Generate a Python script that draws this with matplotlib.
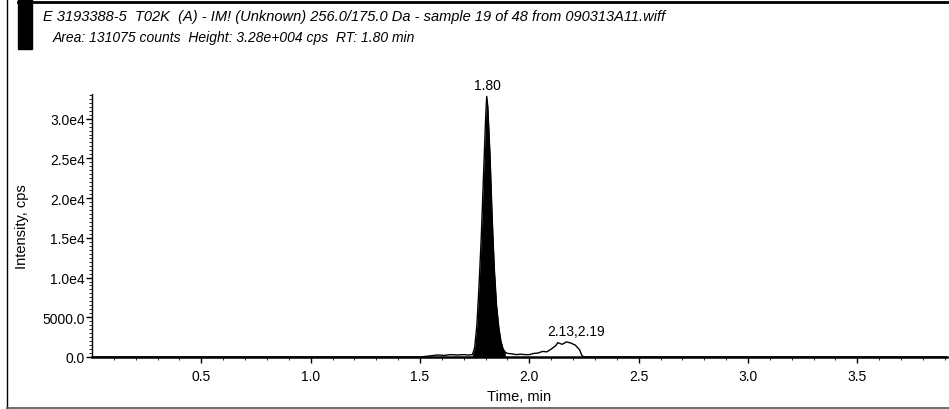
import numpy as np
import matplotlib.pyplot as plt
from matplotlib.patches import Rectangle
from matplotlib.lines import Line2D

# chromatogram trace (time in min, intensity in cps)
time_min = [0.00, 0.30, 0.60, 0.90, 1.20, 1.50, 1.55, 1.58, 1.61, 1.64, 1.67, 1.70, 1.72,
            1.740, 1.750, 1.760, 1.770, 1.780, 1.790, 1.800, 1.805, 1.810, 1.820, 1.830,
            1.840, 1.850, 1.860, 1.870, 1.880, 1.890, 1.90, 1.92, 1.94, 1.96, 1.98, 2.00,
            2.02, 2.04, 2.06, 2.08, 2.10, 2.12, 2.13, 2.15, 2.17, 2.19, 2.21, 2.23, 2.24,
            2.25, 2.50, 3.00, 3.50, 3.91]
intensity = [0, 0, 0, 0, 0, 0, 150, 250, 200, 300, 250, 300, 250,
             300, 1200, 4000, 9000, 15000, 22500, 30000, 32800, 31500, 25500, 17500,
             11000, 6500, 3800, 2000, 1000, 600, 450, 400, 300, 350, 300, 300,
             450, 500, 700, 650, 1000, 1400, 1800, 1600, 1900, 1750, 1500, 900, 200,
             0, 0, 0, 0, 0]

peak_start, peak_end = 1.74, 1.89
peak_labels = [(1.807, 32800, "1.80"), (2.215, 1900, "2.13,2.19")]

ytick_vals = [0, 5000, 10000, 15000, 20000, 25000, 30000]
ytick_text = ["0.0", "5000.0", "1.0e4", "1.5e4", "2.0e4", "2.5e4", "3.0e4"]
xtick_vals = [0.5, 1.0, 1.5, 2.0, 2.5, 3.0, 3.5]

title1 = "E 3193388-5  T02K  (A) - IM! (Unknown) 256.0/175.0 Da - sample 19 of 48 from 090313A11.wiff"
title2 = "Area: 131075 counts  Height: 3.28e+004 cps  RT: 1.80 min"

plt.rcParams['font.family'] = ['Liberation Sans', 'DejaVu Sans']

W, H = 949, 410
fig = plt.figure(figsize=(W / 100, H / 100), dpi=100)
ax = fig.add_axes([92 / W, 1 - 358 / H, (947 - 92) / W, (358 - 95) / H])

t = np.array(time_min)
y = np.array(intensity)
ax.plot(t, y, color='black', lw=1.0)
m = (t >= peak_start) & (t <= peak_end)
ax.fill_between(t[m], 0, y[m], color='black', lw=0)

for px, py, txt in peak_labels:
    ax.annotate(txt, (px, py), xytext=(0, 3), textcoords='offset points',
                ha='center', va='bottom', fontsize=10)

ax.set_xlim(0, 3.91)
ax.set_ylim(0, 33100)
ax.set_xticks(xtick_vals)
ax.set_xticklabels([f"{v:.1f}" for v in xtick_vals])
ax.set_xticks(np.arange(0.1, 3.91, 0.1), minor=True)
ax.set_yticks(ytick_vals)
ax.set_yticklabels(ytick_text)
ax.set_yticks(np.arange(0, 33001, 500), minor=True)
ax.tick_params(axis='both', which='major', length=4, width=1, labelsize=10)
ax.tick_params(axis='x', which='major', pad=5)
ax.tick_params(axis='y', which='major', pad=1)
ax.tick_params(axis='both', which='minor', length=2, width=0.6)
for side in ('top', 'right'):
    ax.spines[side].set_visible(False)
ax.spines['bottom'].set_linewidth(1.8)
ax.spines['left'].set_linewidth(1.0)

ax.set_xlabel("Time, min", fontsize=10.5, labelpad=4)
ax.set_ylabel("Intensity, cps", fontsize=10.5, labelpad=10)

# header texts and the outer frame
fig.text(43 / W, 1 - 17 / H, title1, fontsize=10.5, style='italic', va='center')
fig.text(53 / W, 1 - 38 / H, title2, fontsize=10, style='italic', va='center')
fig.patches.append(Rectangle((18 / W, 1 - 50 / H), 14 / W, 50 / H,
                             transform=fig.transFigure, color='black'))
fig.lines.append(Line2D([7 / W, 7 / W], [0.003, 1], transform=fig.transFigure, color='black', lw=1))
fig.lines.append(Line2D([7 / W, 1], [0.003, 0.003], transform=fig.transFigure, color='#555555', lw=1.2))
fig.lines.append(Line2D([18 / W, 1], [0.993, 0.993], transform=fig.transFigure, color='black', lw=2))

fig.savefig("out.png", dpi=100)
